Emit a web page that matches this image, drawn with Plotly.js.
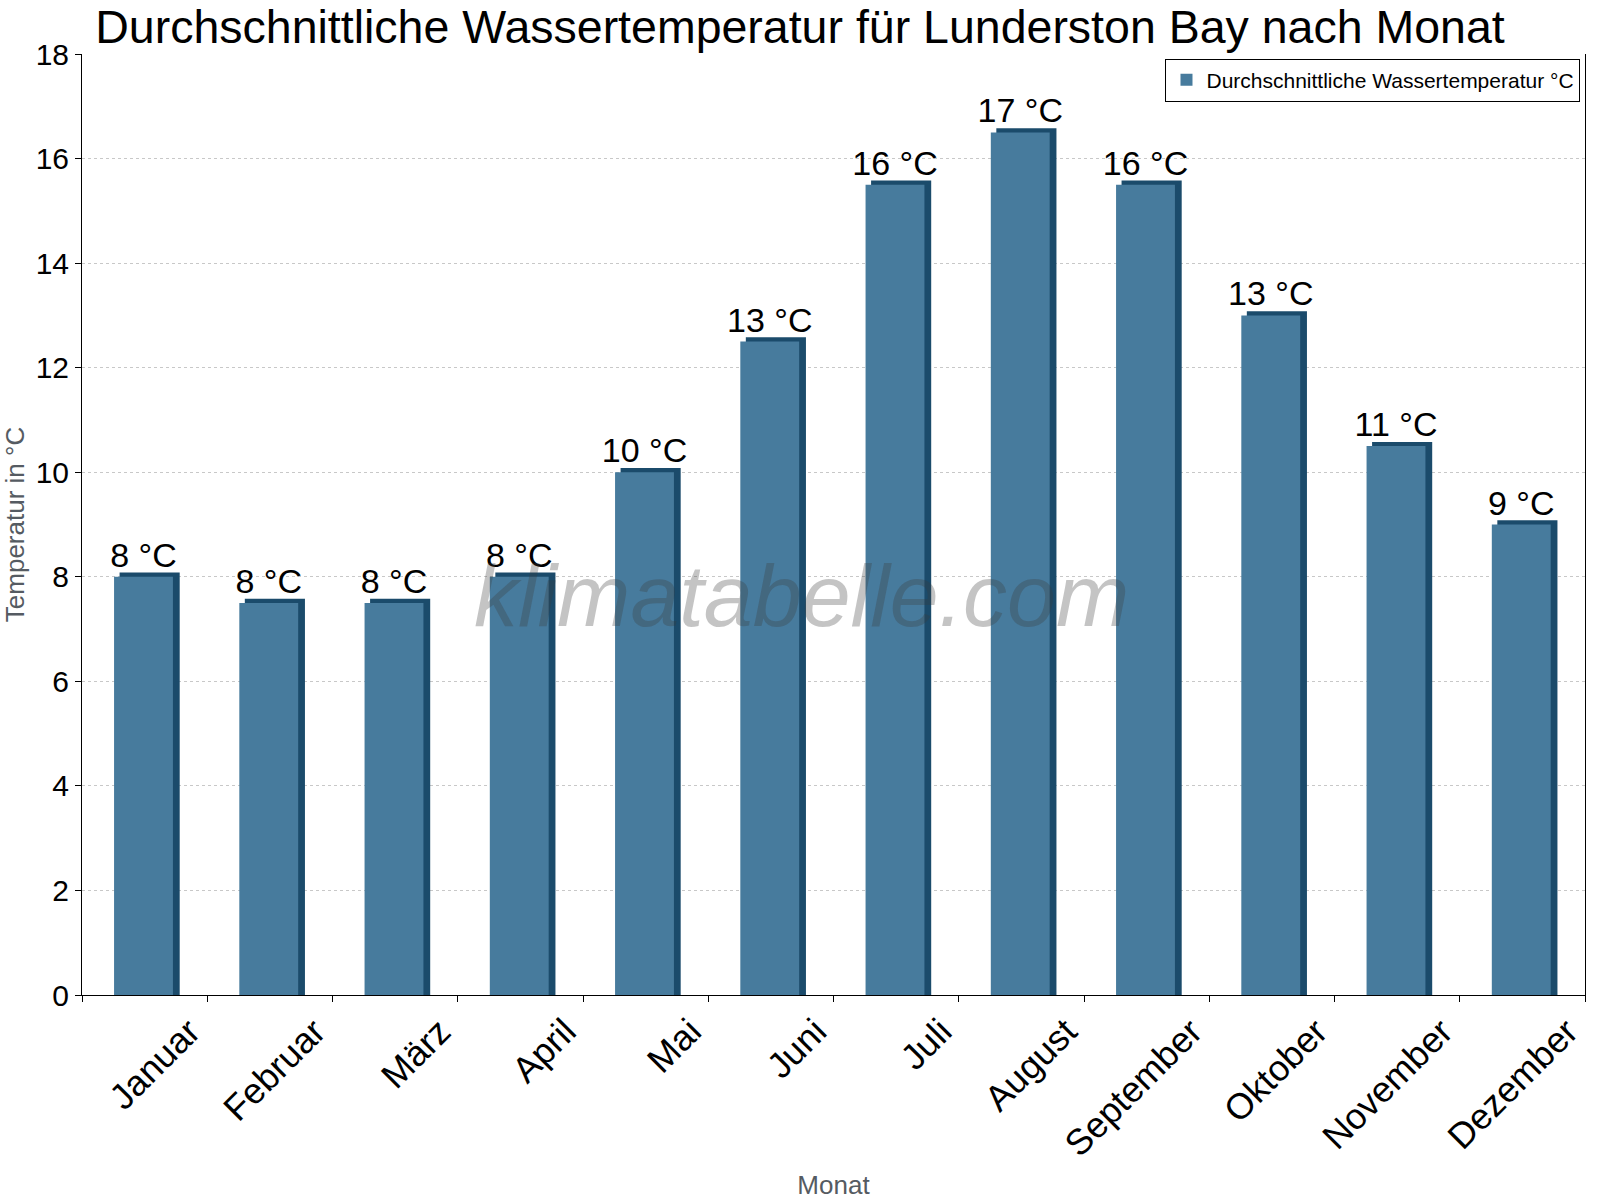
<!DOCTYPE html>
<html>
<head>
<meta charset="utf-8">
<script src="https://cdn.plot.ly/plotly-3.0.1.min.js"></script>
<style>
  html, body { margin: 0; padding: 0; background: #fff; }
  #chart { width: 1600px; height: 1200px; }
</style>
</head>
<body>
<div id="chart"></div>
<script>
// Monate und Wassertemperatur (°C)
const months = ['Januar', 'Februar', 'März', 'April', 'Mai', 'Juni', 'Juli',
  'August', 'September', 'Oktober', 'November', 'Dezember'];
const waterTemp = [8, 7.5, 7.5, 8, 10, 12.5, 15.5, 16.5, 15.5, 13, 10.5, 9];
const yTicks = [0, 2, 4, 6, 8, 10, 12, 14, 16, 18];

const labels = waterTemp.map(v => Math.round(v) + ' °C');

// dunkler "Schatten" hinter dem Balken fuer den 3D-Look
const side = {
  type: 'bar',
  x: months,
  y: waterTemp.map(v => v + 0.08),
  width: 0.48,
  offset: -0.2,
  marker: { color: '#1b4b6b', line: { width: 0 } },
  hoverinfo: 'skip',
  showlegend: false
};

const front = {
  type: 'bar',
  name: 'Durchschnittliche Wassertemperatur °C',
  x: months,
  y: waterTemp,
  width: 0.47,
  offset: -0.244,
  marker: { color: '#477b9d', line: { width: 0 } },
  text: labels,
  textposition: 'outside',
  constraintext: 'none',
  cliponaxis: false,
  textfont: { family: 'Liberation Sans, Arial, sans-serif', size: 34, color: '#000' }
};

const layout = {
  width: 1600,
  height: 1200,
  margin: { l: 82, r: 15, t: 54, b: 205 },
  paper_bgcolor: '#fff',
  plot_bgcolor: '#fff',
  barmode: 'overlay',
  font: { family: 'Liberation Sans, Arial, sans-serif', color: '#000' },
  title: {
    text: 'Durchschnittliche Wassertemperatur für Lunderston Bay nach Monat',
    font: { size: 46.5, color: '#000' },
    x: 0.5, xanchor: 'center',
    y: 0.978, yanchor: 'middle'
  },
  xaxis: {
    type: 'category',
    tickangle: -45,
    tickfont: { size: 36, color: '#000' },
    ticks: 'outside',
    tickson: 'boundaries',
    ticklen: 6,
    tickcolor: '#000',
    ticklabelshift: 45,
    showline: true,
    linecolor: '#000',
    linewidth: 1,
    showgrid: false,
    title: { text: 'Monat', font: { size: 26, color: '#555b62' }, standoff: 22 },
    automargin: false
  },
  yaxis: {
    range: [0, 18],
    tickvals: yTicks,
    tickfont: { size: 30, color: '#000' },
    ticks: 'outside',
    ticklen: 6,
    tickcolor: '#000',
    showline: true,
    mirror: true,
    linecolor: '#000',
    linewidth: 1,
    showgrid: true,
    gridcolor: '#c8c8c8',
    griddash: 'dot',
    zeroline: false,
    title: { text: 'Temperatur in °C', font: { size: 26, color: '#555b62' }, standoff: 16 },
    automargin: false
  },
  legend: {
    x: 0.997, xanchor: 'right',
    y: 0.995, yanchor: 'top',
    bgcolor: '#fff',
    bordercolor: '#000',
    borderwidth: 1,
    font: { size: 21, color: '#000' }
  },
  annotations: [{
    text: 'klimatabelle.com',
    xref: 'paper', yref: 'paper',
    x: 0.479, y: 0.425,
    showarrow: false,
    font: { family: 'Liberation Sans, Arial, sans-serif', size: 88, style: 'italic', color: 'rgba(60,60,60,0.3)' }
  }]
};

Plotly.newPlot('chart', [side, front], layout, { displayModeBar: false });
</script>
</body>
</html>
